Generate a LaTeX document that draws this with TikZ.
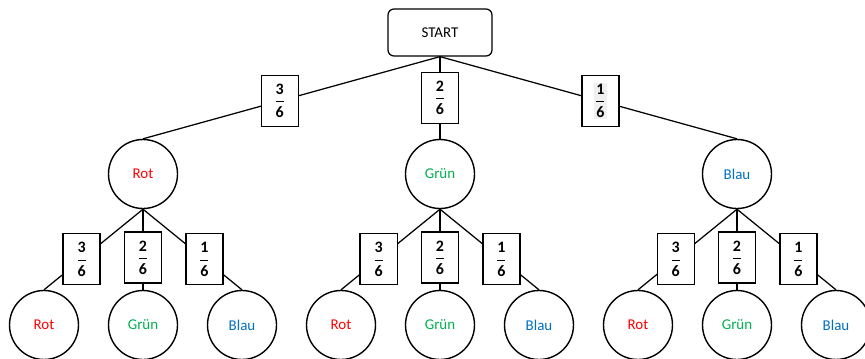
\documentclass[tikz,border=0pt]{standalone}
\usepackage{amsmath}
\usepackage{fontspec}
\setmainfont{Carlito}
\definecolor{rot}{RGB}{255,0,0}
\definecolor{gruen}{RGB}{0,176,80}
\definecolor{blau}{RGB}{0,112,192}
\newcommand\fr[2]{$\dfrac{\mathbf{#1}}{\mathbf{#2}}$}
\begin{document}
\begin{tikzpicture}[x=1bp,y=-1bp,line width=1.25bp,
  startbox/.style={draw,rounded corners=6bp,minimum width=104bp,minimum height=47bp,inner sep=0pt,fill=white,font=\fontsize{15}{17}\selectfont},
  ball/.style={draw,circle,minimum size=69bp,inner sep=0pt,line width=1.4bp,fill=white,font=\fontsize{15}{18}\selectfont},
  pbox/.style={draw,fill=white,minimum width=37bp,minimum height=51bp,inner sep=0pt,line width=1.25bp,font=\fontsize{16}{18}\selectfont}]
\useasboundingbox (0,0) rectangle (865,358);
\node[startbox] (s) at (440,32.5) {START};
\node[ball,text=rot] (r) at (143,174) {Rot};
\node[ball,text=gruen] (g) at (440,174) {Grün};
\node[ball,text=blau] (b) at (737,174) {Blau};
\draw (s.south) -- node[pbox,pos=0.54] (pr) {\fr36} (r.north);
\draw (s.south) -- node[pbox,pos=0.5] (pg) {\fr26} (g.north);
\draw (s.south) -- node[pbox,pos=0.54] (pb) {\fboxsep=1pt\colorbox{black!6}{\fr16}} (b.north);
\foreach \p/\x in {r/143,g/440,b/737} {
  \node[ball,text=rot] (\p1) at (\x-99,325) {Rot};
  \node[ball,text=gruen] (\p2) at (\x,325) {Grün};
  \node[ball,text=blau] (\p3) at (\x+99,325) {Blau};
  \draw (\p.south) -- node[pbox,pos=0.62] (\p q1) {\fr36} (\p1.north);
  \draw (\p.south) -- node[pbox,pos=0.6] (\p q2) {\fr26} (\p2.north);
  \draw (\p.south) -- node[pbox,pos=0.62] (\p q3) {\fr16} (\p3.north);
}
\end{tikzpicture}
\end{document}
